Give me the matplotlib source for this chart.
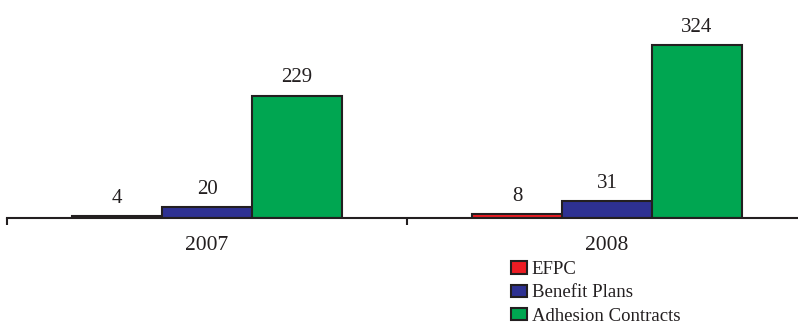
import matplotlib
matplotlib.use("Agg")
import matplotlib.pyplot as plt
import numpy as np

years = ["2007", "2008"]
series_names = ["EFPC", "Benefit Plans", "Adhesion Contracts"]
efpc = [4, 8]
benefit = [20, 31]
adhesion = [229, 324]
colors = ["#ed1c24", "#2e3192", "#00a651"]

plt.rcParams['font.family'] = ['Liberation Serif', 'DejaVu Serif']

W, H = 798, 325
fig = plt.figure(figsize=(W / 100, H / 100), dpi=100)
ax = fig.add_axes([7 / W, (H - 218) / H, 800 / W, 218 / H])

x = np.arange(len(years))
bw = 0.225
vals = [efpc, benefit, adhesion]
for i, (name, v, c) in enumerate(zip(series_names, vals, colors)):
    pos = x + (i - 1) * bw
    ax.bar(pos, v, width=bw, color=c, edgecolor="#231f20", linewidth=1.5, label=name)
    for p, val in zip(pos, v):
        ax.annotate(str(val), (p, val), xytext=(0, 9.5), textcoords="offset points",
                    ha="center", va="baseline", fontsize=15, color="#231f20")

ax.set_xlim(-0.5, 1.5)
ax.set_ylim(0, 408)
for s in ["top", "left", "right"]:
    ax.spines[s].set_visible(False)
ax.spines["bottom"].set_linewidth(1.5)
ax.spines["bottom"].set_color("#231f20")
ax.set_yticks([])
ax.set_xticks(x)
ax.set_xticklabels(years, fontsize=15.5, color="#231f20")
ax.tick_params(axis="x", which="major", length=0, pad=13)
ax.set_xticks([-0.5, 0.5, 1.5], minor=True)
ax.tick_params(axis="x", which="minor", length=5, width=1.5, color="#231f20", direction="out")

fig.legend(loc="upper left", bbox_to_anchor=(511 / W, 1 - 261 / H), frameon=False,
           fontsize=13.5, handlelength=0.85, handleheight=0.65, handletextpad=0.25,
           labelspacing=0.34, borderpad=0, borderaxespad=0, labelcolor="#231f20")

fig.savefig("out.png", dpi=100)
